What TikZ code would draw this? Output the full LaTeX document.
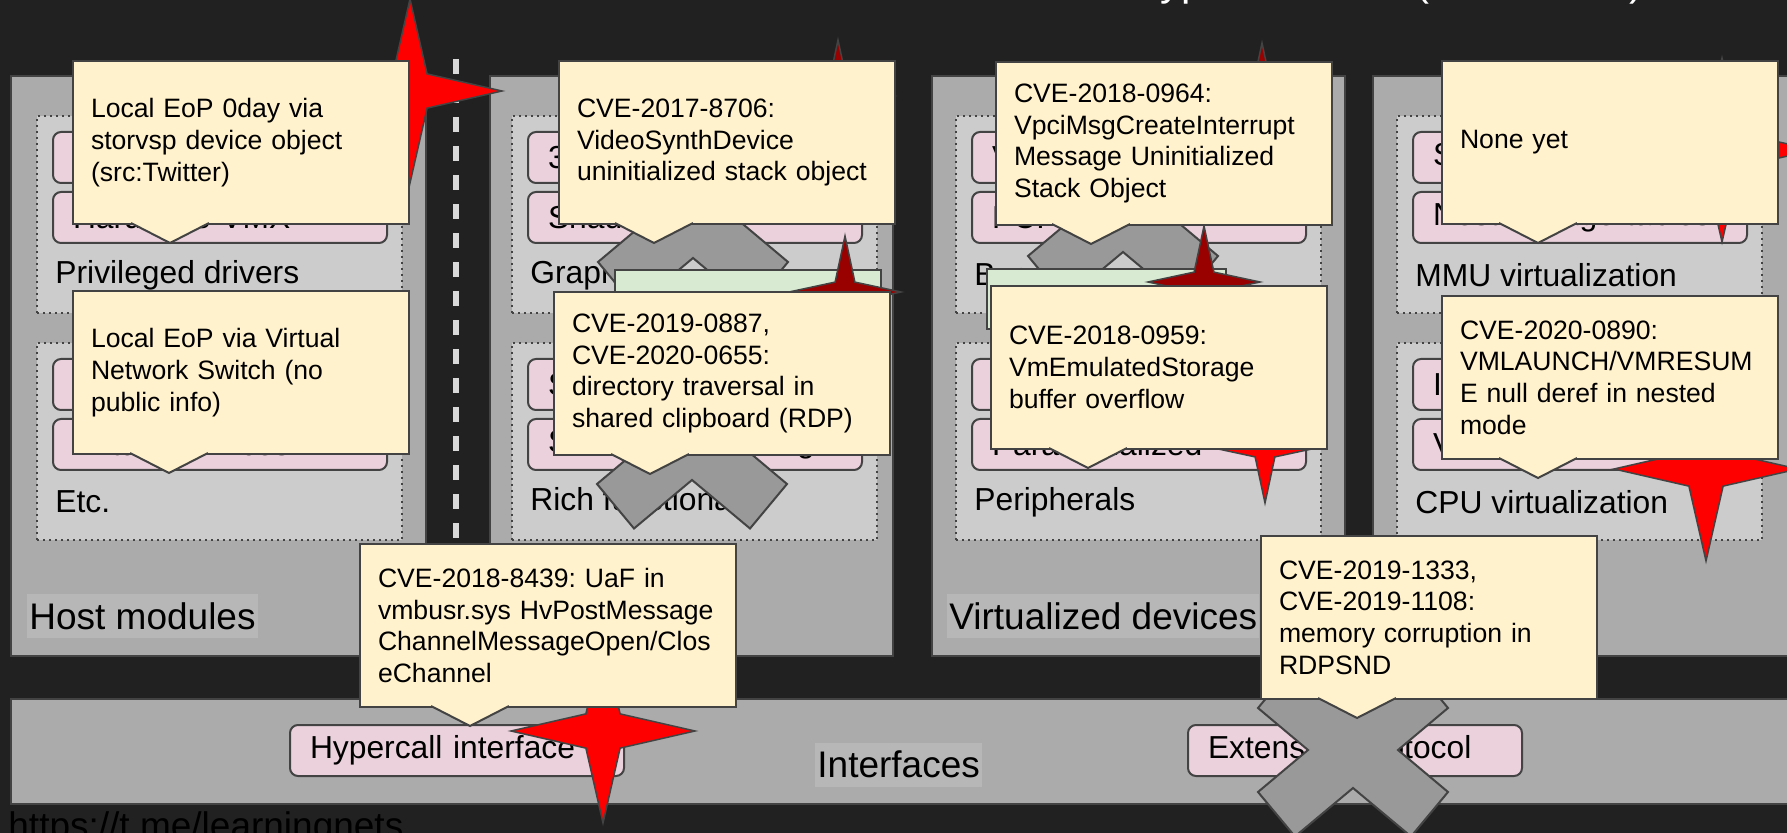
\documentclass[tikz,border=0pt]{standalone}
\usepackage{fontspec}
\setmainfont{Liberation Sans}
\usetikzlibrary{shapes.geometric, positioning}

\definecolor{bgdark}{HTML}{212121}
\definecolor{boxgray}{HTML}{ABABAB}
\definecolor{innergray}{HTML}{CCCCCC}
\definecolor{capgray}{HTML}{B7B7B7}
\definecolor{edge}{HTML}{434343}
\definecolor{partpink}{HTML}{EAD1DC}
\definecolor{notebg}{HTML}{FFF2CC}
\definecolor{greenish}{HTML}{D9EAD3}
\definecolor{xgray}{HTML}{999999}
\definecolor{darkhit}{HTML}{990000}
\definecolor{roadline}{HTML}{D9D9D9}

\begin{document}
\frenchspacing
\begin{tikzpicture}[x=0.5pt, y=-0.5pt,
  every node/.style={inner sep=0pt},
  outer/.style={draw=edge, fill=boxgray, line width=1pt, anchor=north west},
  inner/.style={draw=edge, fill=innergray, line width=1pt, dash pattern=on 1pt off 2pt,
    anchor=north west, minimum width=182.5pt, minimum height=98.5pt},
  part/.style={draw=edge, fill=partpink, line width=1pt, rounded corners=4pt, anchor=west,
    minimum width=167pt, minimum height=25.5pt, text width=147pt, inner xsep=10pt,
    align=left, font=\fontsize{15.9}{19}\selectfont},
  area/.style={anchor=west, font=\fontsize{15.9}{19}\selectfont},
  caption/.style={fill=capgray, anchor=west, inner xsep=1pt, minimum height=22pt,
    font=\fontsize{18.5}{22}\selectfont},
  note/.style={draw=edge, fill=notebg, line width=1pt, anchor=north west,
    minimum height=81.5pt, inner xsep=9pt, align=left,
    font=\fontsize{13.3}{15.85}\selectfont},
  shade/.style={draw=edge, fill=greenish, line width=1pt, anchor=north west},
  hit/.style={star, star points=4, star point ratio=3.8, minimum size=92pt,
    draw=edge, line width=0.75pt, fill=red},
  minor/.style={hit, star point ratio=4, minimum size=56pt},
  road/.style={draw=roadline, line width=3pt, dash pattern=on 7.5pt off 7pt},
  cross/.pic={
    \filldraw[draw=edge, fill=xgray, line width=1pt]
      (0,-38) -- (58,-86.5) -- (95,-42) -- (45,0) -- (95,42) -- (58,86.5)
      -- (0,38) -- (-58,86.5) -- (-95,42) -- (-45,0) -- (-95,-42) -- (-58,-86.5) -- cycle;
  }]

  \useasboundingbox (0,0) rectangle (1787,833);
  \clip (0,0) rectangle (1787,833);
  \fill[bgdark] (0,0) rectangle (1787,833);

  % main blocks
  \node[outer, minimum width=207.5pt, minimum height=290pt] (host) at (10,75) {};
  \node[outer, minimum width=201.5pt, minimum height=290pt] (rich) at (489,75) {};
  \node[outer, minimum width=206.5pt, minimum height=290pt] (virt) at (931,75) {};
  \node[outer, minimum width=214pt, minimum height=290pt] (cpu) at (1372,75) {};
  \node[outer, minimum width=895pt, minimum height=52.5pt] (intf) at (10,698) {};

  \draw[road] (456,59) -- (456,560);

  % sub areas
  \foreach \x/\y/\pa/\pb/\lab [count=\i] in {
      36/115/{}/{Hardware VMX}/{Privileged drivers},
      36/342/{}/{Virtual services}/{Etc.},
      511/115/{3D}/{Shader}/{Graphics},
      511/342/{S}/{Shared networking}/{Rich functionality},
      955/115/{V}/{PCI}/{Buses},
      955/342/{}/{Paravirtualized}/{Peripherals},
      1396/115/{Shadow page tables}/{Nested page tables}/{MMU virtualization},
      1396/342/{I}/{V}/{CPU virtualization}} {
    \node[inner] (zone\i) at (\x,\y) {};
    \node[part] (zone\i-a) at (\x+16,\y+42.5) {\pa};
    \node[part] (zone\i-b) at (\x+16,\y+102.5) {\pb};
    \node[area] (zone\i-l) at (\x+19,\y+160) {\lab};
  }

  \node[part] (hyper) at (289,750.5) {Hypercall interface};
  \node[part] (ext) at (1187,750.5) {Extension protocol};

  \node[caption] (hostcap) at (27,616) {Host modules};
  \node[caption] (virtcap) at (947,616) {Virtualized devices};
  \node[caption] (intfcap) at (815,764.5) {Interfaces};

  % not exploitable
  \pic at (693,220) {cross};
  \pic at (692,442) {cross};
  \pic at (1123,214) {cross};
  \pic at (1353,750) {cross};

  \node[shade, minimum width=133pt, minimum height=30pt] (gfx) at (614,269) {};
  \node[shade, minimum width=119.5pt, minimum height=30pt] (bus) at (986,268) {};

  % bugs
  \node[hit] (s1) at (410,91) {};
  \node[minor, fill=darkhit] (s2) at (838,96) {};
  \node[minor, fill=darkhit] (s3) at (1262,99) {};
  \node[hit] (s4) at (1722,150) {};
  \node[minor, fill=darkhit] (s5) at (845,292) {};
  \node[minor, fill=darkhit] (s6) at (1204,282) {};
  \node[minor] (s7) at (1265,447) {};
  \node[hit] (s8) at (1706,469) {};
  \node[hit] (s9) at (603,731) {};

  % callouts
  \foreach \n/\x/\y/\w/\t/\txt in {
      c1/72/60/150/170/{Local EoP 0day via\\storvsp device object\\(src:Twitter)},
      c2/72/290/150/169/{Local EoP via Virtual\\Network Switch (no\\public info)},
      c3/558/60/150/654/{CVE-2017-8706:\\VideoSynthDevice\\uninitialized stack object},
      c4/553/291/150/650/{CVE-2019-0887,\\CVE-2020-0655:\\directory traversal in\\shared clipboard (RDP)},
      c5/995/61/150/1091/{CVE-2018-0964:\\VpciMsgCreateInterrupt\\Message Uninitialized\\Stack Object},
      c6/1441/60/150/1538/{None yet},
      c7/990/285/150/1088/{CVE-2018-0959:\\VmEmulatedStorage\\buffer overflow},
      c8/1441/295/150/1538/{CVE-2020-0890:\\VMLAUNCH/VMRESUM\\E null deref in nested\\mode},
      c9/359/543/170/470/{CVE-2018-8439: UaF in\\vmbusr.sys HvPostMessage\\ChannelMessageOpen/Clos\\eChannel},
      c10/1260/535/150/1357/{CVE-2019-1333,\\CVE-2019-1108:\\memory corruption in\\RDPSND}} {
    \node[note, text width=\w pt] (\n) at (\x,\y) {\txt};
    \fill[notebg] (\t-41,\y+161) -- (\t+41,\y+161) -- (\t+39,\y+163) -- (\t,\y+183)
      -- (\t-39,\y+163) -- cycle;
    \draw[edge, line width=1pt] (\t-39,\y+163) -- (\t,\y+183) -- (\t+39,\y+163);
  }

  \node[anchor=base west, text=white, font=\fontsize{21}{25}\selectfont] (title) at (1130,-4)
    {Hyper-V CVEs (2017-2020)};
  \node[anchor=base west, text=black, font=\fontsize{18.5}{22}\selectfont] (url) at (8,838)
    {https://t.me/learningnets};
\end{tikzpicture}
\end{document}
